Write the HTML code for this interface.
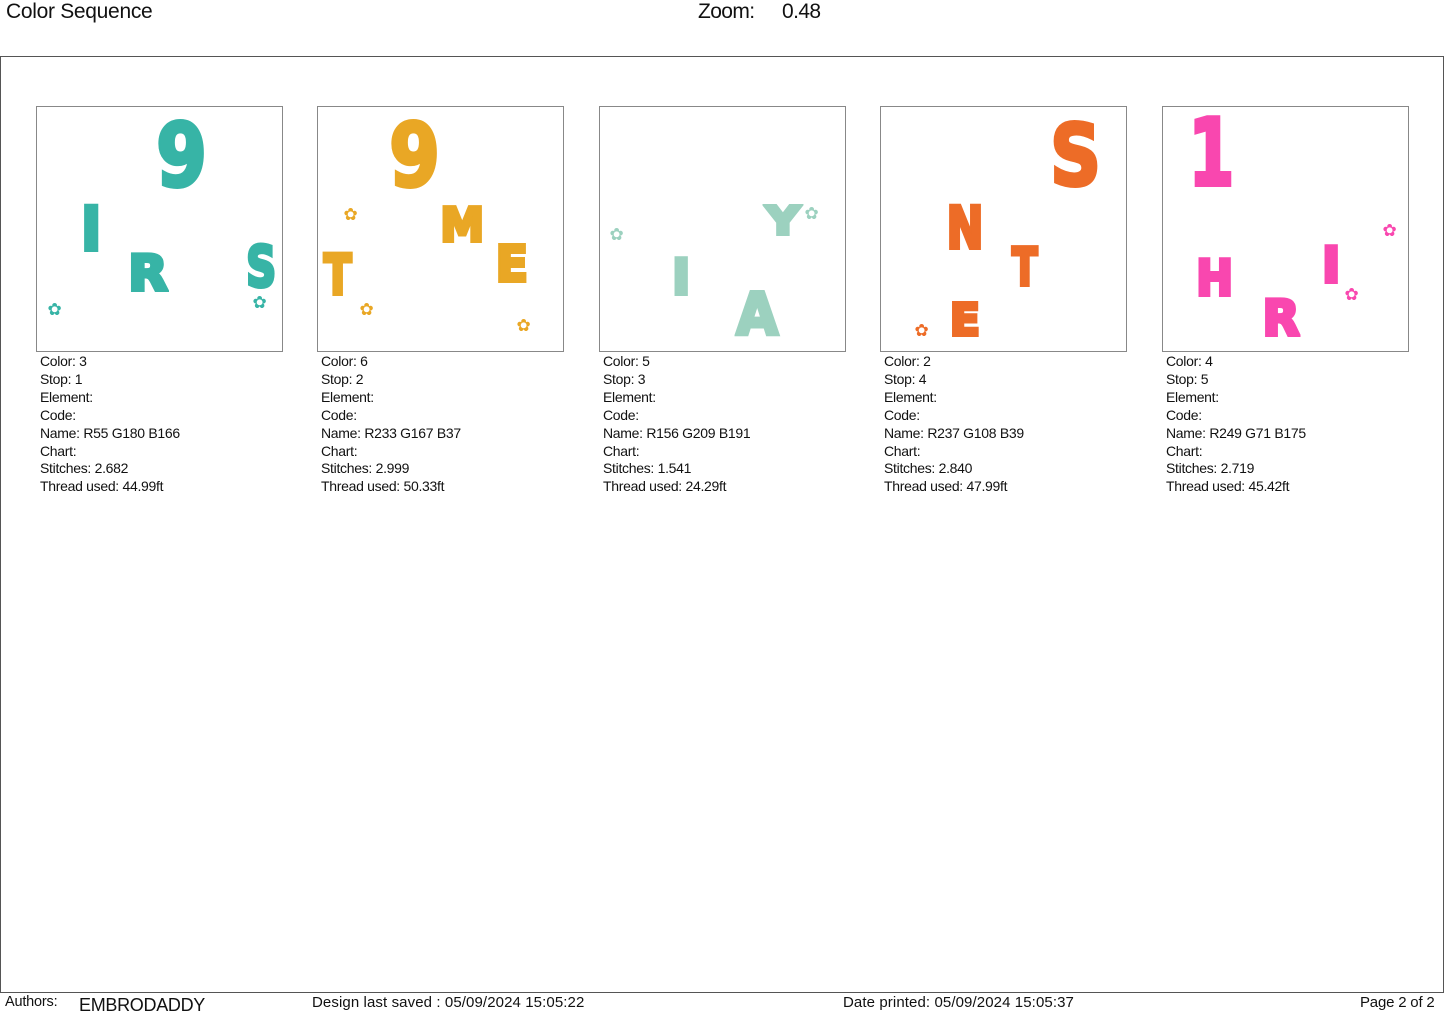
<!DOCTYPE html>
<html><head><meta charset="utf-8">
<style>
body{margin:0;width:1445px;height:1018px;background:#fff;position:relative;overflow:hidden;font-family:"Liberation Sans",sans-serif;color:#111}
.abs{position:absolute;white-space:nowrap}
.frame{position:absolute;left:0;top:56px;width:1442px;height:935px;border:1px solid #555;border-right:1px solid #555}
.box{position:absolute;top:106px;width:245px;height:244px;border:1px solid #888;background:#fff}
.info{position:absolute;top:353px;font-size:14px;line-height:17.9px;letter-spacing:-0.3px}
.g{position:absolute;font-family:"DejaVu Sans",sans-serif;font-weight:bold;line-height:1;transform-origin:center;-webkit-text-stroke-width:4px;paint-order:stroke fill;stroke-linejoin:round}
.fl{position:absolute;line-height:1;font-family:"DejaVu Sans",sans-serif;font-weight:bold}
</style></head><body>
<div class="abs" style="left:6px;top:0px;font-size:21px;letter-spacing:-0.3px">Color Sequence</div>
<div class="abs" style="left:698px;top:0px;font-size:21px;letter-spacing:-0.6px">Zoom:</div>
<div class="abs" style="left:782px;top:0px;font-size:21px;letter-spacing:-0.6px">0.48</div>
<div class="frame"></div>
<div id="panels"></div>
<div class="abs" style="left:5px;top:994px;font-size:14.5px;letter-spacing:-0.2px">Authors:</div>
<div class="abs" style="left:79px;top:995px;font-size:18px;letter-spacing:-0.3px">EMBRODADDY</div>
<div class="abs" style="left:312px;top:994px;font-size:15px;letter-spacing:0.1px">Design last saved : 05/09/2024 15:05:22</div>
<div class="abs" style="left:843px;top:994px;font-size:15px;letter-spacing:0.1px">Date printed: 05/09/2024 15:05:37</div>
<div class="abs" style="left:1360px;top:994px;font-size:15px;letter-spacing:-0.2px">Page 2 of 2</div>
<script>
const boxLefts=[36,317,599,880,1162];
const colorNums=[3,6,5,2,4];
const stops=[1,2,3,4,5];
const names=["R55 G180 B166","R233 G167 B37","R156 G209 B191","R237 G108 B39","R249 G71 B175"];
const stitches=["2.682","2.999","1.541","2.840","2.719"];
const threads=["44.99ft","50.33ft","24.29ft","47.99ft","45.42ft"];
const fills=["#37b4a6","#e9a725","#9cd1bf","#ed6c27","#f947af"];
// glyphs: panel, char, center x, center y, height, width
const glyphs=[
[0,"9",181,155,64,44],[0,"I",91,229,44,18],[0,"R",148,273,36,34],[0,"S",261,267,41,26],
[1,"9",414,155,64,44],[1,"M",462,224,34,38],[1,"E",512,264,36,28],[1,"T",338,274,40,24],
[2,"Y",783,221,28,30],[2,"I",681,277,36,16],[2,"A",757,314,42,36],
[3,"S",1076,156,62,44],[3,"N",965,228,42,32],[3,"T",1025,267,38,22],[3,"E",965,320,32,26],
[4,"1",1211,152,68,40],[4,"H",1215,278,36,32],[4,"I",1331,265,36,16],[4,"R",1281,318,36,32]];
const flowers=[[0,56,311],[0,261,304],[1,352,216],[1,368,311],[1,525,327],[2,618,236],[2,813,215],[3,923,332],[4,1391,232],[4,1353,296]];
const root=document.getElementById('panels');
boxLefts.forEach((x,i)=>{
  const b=document.createElement('div');b.className='box';b.style.left=x+'px';
  
  
  root.appendChild(b);
  const t=document.createElement('div');t.className='info';t.style.left=(x+4)+'px';
  
  
  t.innerHTML='Color: '+colorNums[i]+'<br>Stop: '+stops[i]+'<br>Element:<br>Code:<br>Name: '+names[i]+'<br>Chart:<br>Stitches: '+stitches[i]+'<br>Thread used: '+threads[i];
  root.appendChild(t);
});
glyphs.forEach(g=>{
  const [p,c,cx,cy,h,w]=g;
  const s=document.createElement('div');s.className='g';s.textContent=c;
  
  
  const fs=h/0.73;
  s.style.fontSize=fs+'px';s.style.color=fills[p];s.style.webkitTextStrokeColor=fills[p];
  root.appendChild(s);
  const r=s.getBoundingClientRect();
  const sx=w/r.width;
  s.style.left=(cx-r.width/2)+'px';s.style.top=(cy-fs*0.48)+'px';
  s.style.transform='scaleX('+Math.min(1.2,sx*1.15)+')';
});
flowers.forEach(f=>{
  const [p,cx,cy]=f;
  const s=document.createElement('div');s.className='fl';s.textContent='✿';
  
  
  s.style.fontSize='17px';s.style.color=fills[p];
  s.style.left=(cx-8.5)+'px';s.style.top=(cy-9)+'px';
  root.appendChild(s);
});
</script>
</body></html>
